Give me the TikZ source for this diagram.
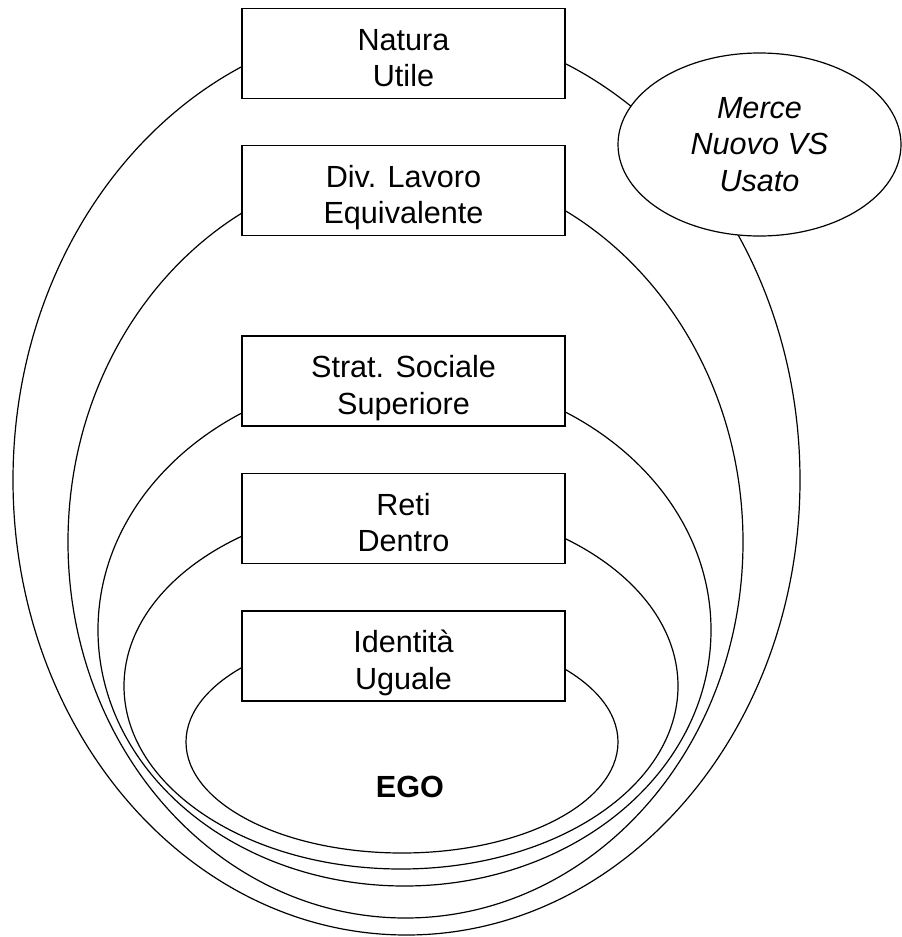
\documentclass[tikz,border=0pt]{standalone}
\usepackage{fontspec}
\setmainfont{Liberation Sans}
\usetikzlibrary{shapes.geometric}

\begin{document}
\begin{tikzpicture}[x=0.5pt, y=-0.5pt, ring/.style={line width=0.6pt}, stage/.style={draw, fill=white, line width=0.85pt, minimum width=161.5pt, minimum height=45pt, inner sep=0pt, text height=36.5pt, text depth=3.2pt, align=center, font=\fontsize{15.3}{18.4}\selectfont}, goods/.style={ellipse, draw, fill=white, line width=0.6pt, minimum width=141.5pt, minimum height=91.5pt, inner sep=0pt, align=center, font=\fontsize{15.3}{18.4}\selectfont\itshape}]
		\useasboundingbox (0,0) rectangle (901,937);
		\draw[ring] (406.5,480) ellipse [x radius=393.5, y radius=455];
		\draw[ring] (405.5,542) ellipse [x radius=337.5, y radius=376];
		\draw[ring] (404.5,630) ellipse [x radius=306.5, y radius=256];
		\draw[ring] (401,686) ellipse [x radius=277, y radius=183];
		\draw[ring] (402,742) ellipse [x radius=216, y radius=111];
		\node[goods] (merce) at (759.5,144.5) {Merce\\Nuovo VS\\Usato};
		\node[stage] (natura) at (403.5,53.5) {Natura\\Utile};
		\node[stage] (lavoro) at (403.5,190.5) {Div. Lavoro\\Equivalente};
		\node[stage] (strat) at (403.5,381) {Strat. Sociale\\Superiore};
		\node[stage] (reti) at (403.5,518.5) {Reti\\Dentro};
		\node[stage] (ident) at (403.5,656) {Identità\\Uguale};
		\node[font=\fontsize{15.3}{18.4}\selectfont\bfseries] (ego) at (410,787) {EGO};
	\end{tikzpicture}
\end{document}
